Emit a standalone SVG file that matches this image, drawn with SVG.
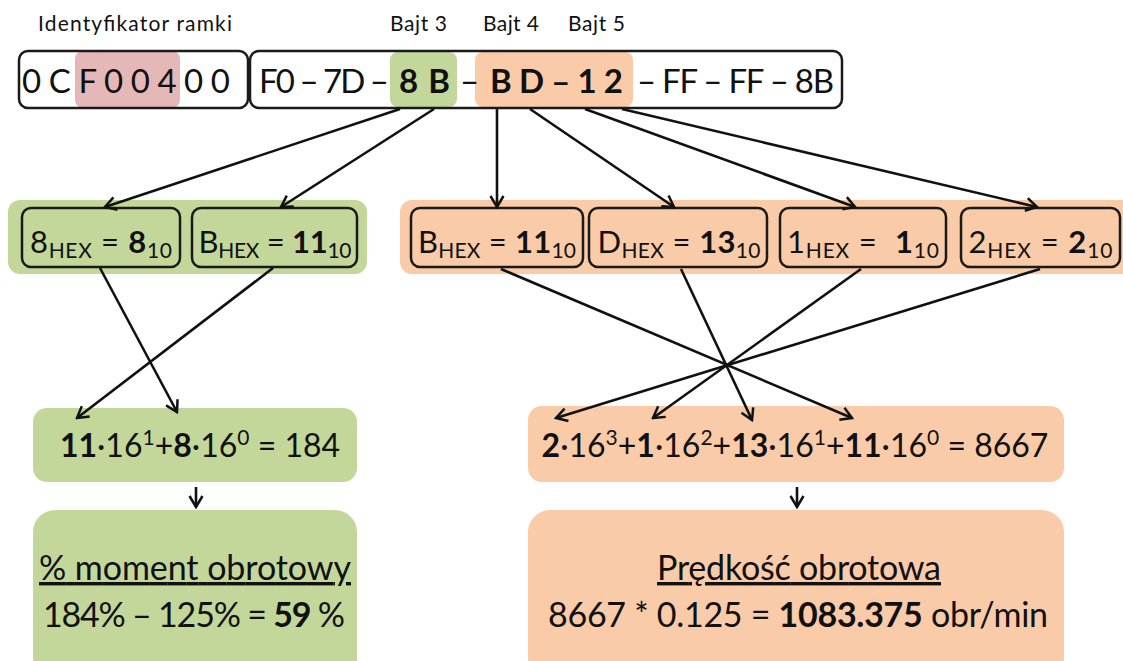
<svg xmlns="http://www.w3.org/2000/svg" width="1123" height="661" viewBox="0 0 1123 661">
<style>
text{font-family:Lato,"Open Sans","Liberation Sans",sans-serif;fill:#111}
.lbl{font-size:21px}
.top{font-size:33px}
.hex{font-size:31px}
.sub{font-size:21px}
.frm{font-size:32px}
.sup{font-size:21px}
.big{font-size:34px}
.b{font-weight:bold}
.box{fill:none;stroke:#1a1a1a;stroke-width:2.5}
.g{fill:#C4D79B}
.o{fill:#F9CBA8}
.p{fill:#E5B8B7}
.c line{stroke:#111;stroke-width:2.6;marker-end:url(#ah)}
</style>
<defs>
<marker id="ah" markerUnits="userSpaceOnUse" viewBox="-13 -8 15 16" markerWidth="15" markerHeight="16" refX="0" refY="0" orient="auto">
<path d="M-11,-6.5 L0,0 L-11,6.5" fill="none" stroke="#111" stroke-width="2.5"/>
</marker>
</defs>
<rect width="1123" height="661" fill="#fff"/>

<g id="labels">
<text class="lbl" x="38" y="31" textLength="194">Identyfikator ramki</text>
<text class="lbl" x="390" y="31" textLength="57">Bajt 3</text>
<text class="lbl" x="483" y="31" textLength="56">Bajt 4</text>
<text class="lbl" x="568" y="31" textLength="57">Bajt 5</text>
</g>

<g id="frame-id">
<rect class="p" x="75" y="51" width="105" height="57" rx="8"/>
<rect class="box" x="19" y="51" width="229" height="57" rx="9"/>
<text class="top" x="22" y="93" textLength="208">0 C F 0 0 4 0 0</text>
</g>

<g id="frame-data">
<rect class="g" x="390" y="52" width="67" height="55" rx="8"/>
<rect class="o" x="475" y="52" width="158" height="55" rx="8"/>
<rect class="box" x="250" y="51" width="592" height="57" rx="9"/>
<text class="top" x="259" y="93" textLength="130">F0 – 7D –</text>
<text class="top b" x="399" y="93" textLength="51">8 B</text>
<text class="top" x="460" y="93" textLength="15">–</text>
<text class="top b" x="490" y="93" textLength="133">B D – 1 2</text>
<text class="top" x="637" y="93" textLength="197">– FF – FF – 8B</text>
</g>

<g id="green-hex">
<rect class="g" x="8" y="200" width="359" height="74" rx="12"/>
<g id="hex8">
<rect class="box" x="22" y="208" width="158" height="59" rx="9"/>
<text class="hex" x="101" y="253" text-anchor="middle" textLength="142">8<tspan class="sub" dy="5">HEX</tspan><tspan dy="-5"> = </tspan><tspan class="b">8</tspan><tspan class="sub" dy="5">10</tspan></text>
</g>
<g id="hexB1">
<rect class="box" x="192" y="208" width="165" height="59" rx="9"/>
<text class="hex" x="275" y="253" text-anchor="middle" textLength="153">B<tspan class="sub" dy="5">HEX</tspan><tspan dy="-5"> = </tspan><tspan class="b">11</tspan><tspan class="sub" dy="5">10</tspan></text>
</g>
</g>

<g id="orange-hex">
<rect class="o" x="400" y="200" width="740" height="74" rx="12"/>
<g id="hexB2">
<rect class="box" x="411" y="208" width="172" height="59" rx="9"/>
<text class="hex" x="497" y="253" text-anchor="middle" textLength="158">B<tspan class="sub" dy="5">HEX</tspan><tspan dy="-5"> = </tspan><tspan class="b">11</tspan><tspan class="sub" dy="5">10</tspan></text>
</g>
<g id="hexD">
<rect class="box" x="589" y="208" width="178" height="59" rx="9"/>
<text class="hex" x="679" y="253" text-anchor="middle" textLength="163">D<tspan class="sub" dy="5">HEX</tspan><tspan dy="-5"> = </tspan><tspan class="b">13</tspan><tspan class="sub" dy="5">10</tspan></text>
</g>
<g id="hex1">
<rect class="box" x="780" y="208" width="166" height="59" rx="9"/>
<text class="hex" x="863" y="253" text-anchor="middle" textLength="152" xml:space="preserve">1<tspan class="sub" dy="5">HEX</tspan><tspan dy="-5"> =  </tspan><tspan class="b">1</tspan><tspan class="sub" dy="5">10</tspan></text>
</g>
<g id="hex2">
<rect class="box" x="961" y="208" width="159" height="59" rx="9"/>
<text class="hex" x="1040.5" y="253" text-anchor="middle" textLength="144">2<tspan class="sub" dy="5">HEX</tspan><tspan dy="-5"> = </tspan><tspan class="b">2</tspan><tspan class="sub" dy="5">10</tspan></text>
</g>
</g>

<g id="green-formula">
<rect class="g" x="33" y="408" width="324" height="74" rx="14"/>
<text class="frm" x="200" y="457" text-anchor="middle"><tspan class="b">11</tspan>·16<tspan class="sup" dy="-12">1</tspan><tspan dy="12">+</tspan><tspan class="b">8</tspan>·16<tspan class="sup" dy="-12">0</tspan><tspan dy="12"> = 184</tspan></text>
</g>

<g id="orange-formula">
<rect class="o" x="528" y="406" width="536" height="76" rx="14"/>
<text class="frm" x="795" y="457" text-anchor="middle"><tspan class="b">2</tspan>·16<tspan class="sup" dy="-12">3</tspan><tspan dy="12">+</tspan><tspan class="b">1</tspan>·16<tspan class="sup" dy="-12">2</tspan><tspan dy="12">+</tspan><tspan class="b">13</tspan>·16<tspan class="sup" dy="-12">1</tspan><tspan dy="12">+</tspan><tspan class="b">11</tspan>·16<tspan class="sup" dy="-12">0</tspan><tspan dy="12"> = 8667</tspan></text>
</g>

<g id="torque">
<rect class="g" x="33" y="510" width="324" height="170" rx="22"/>
<text class="big" x="195" y="580" text-anchor="middle" text-decoration="underline" textLength="312">% moment obrotowy</text>
<text class="big" x="194" y="627" text-anchor="middle" textLength="302">184% – 125% = <tspan class="b">59</tspan> %</text>
</g>

<g id="speed">
<rect class="o" x="528" y="510" width="536" height="170" rx="22"/>
<text class="big" x="799" y="580" text-anchor="middle" text-decoration="underline" textLength="284">Prędkość obrotowa</text>
<text class="big" x="798" y="627" text-anchor="middle" textLength="500" xml:space="preserve">8667 * 0.125 = <tspan class="b">1083.375</tspan> obr/min</text>
</g>

<g id="connectors" class="c">
<line x1="400" y1="109" x2="105" y2="207"/>
<line x1="434" y1="109" x2="281" y2="207"/>
<line x1="497" y1="109" x2="497" y2="207"/>
<line x1="530" y1="109" x2="674" y2="207"/>
<line x1="585" y1="109" x2="855" y2="207"/>
<line x1="622" y1="109" x2="1037" y2="207"/>
<line x1="100" y1="268" x2="177" y2="412"/>
<line x1="273" y1="268" x2="77" y2="418"/>
<line x1="501" y1="269" x2="852" y2="418"/>
<line x1="681" y1="269" x2="752" y2="420"/>
<line x1="861" y1="269" x2="653" y2="418"/>
<line x1="1040" y1="269" x2="556" y2="418"/>
<line x1="196" y1="487" x2="196" y2="507"/>
<line x1="797" y1="487" x2="797" y2="507"/>
</g>
</svg>
